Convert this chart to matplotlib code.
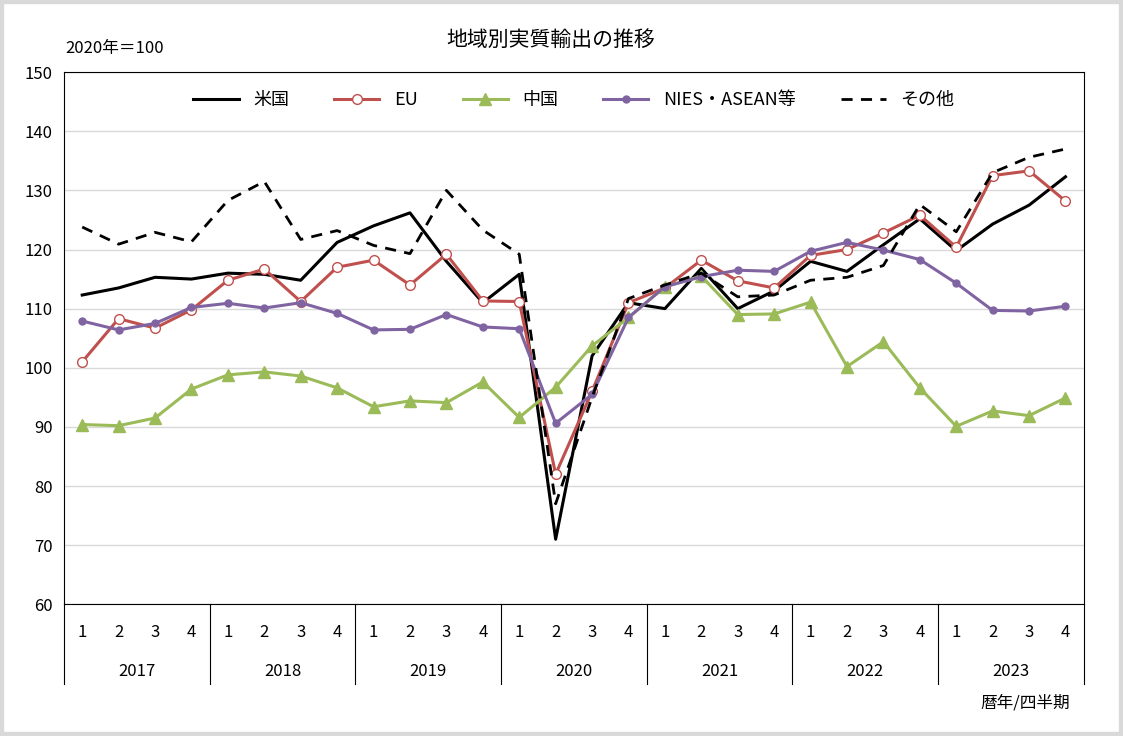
import matplotlib
matplotlib.use("Agg")
import matplotlib.pyplot as plt
from matplotlib.transforms import blended_transform_factory
from matplotlib.patches import Rectangle

plt.rcParams['font.family'] = ['Noto Sans CJK JP', 'DejaVu Sans']

years = ["2017", "2018", "2019", "2020", "2021", "2022", "2023"]
quarters = ["1", "2", "3", "4"]
us = [112.3, 113.5, 115.3, 115.0, 116.0, 115.8, 114.8, 121.2, 124.0, 126.2, 118.0, 111.0, 115.8, 71.0,
      102.0, 111.0, 110.0, 116.8, 110.0, 113.0, 118.0, 116.3, 120.8, 125.2, 119.8, 124.3, 127.5, 132.3]
eu = [101.0, 108.3, 106.7, 109.8, 114.8, 116.7, 111.2, 117.0, 118.2, 114.0, 119.2, 111.3, 111.2, 82.0,
      96.0, 111.0, 113.5, 118.2, 114.7, 113.5, 119.0, 120.0, 122.8, 125.8, 120.4, 132.5, 133.3, 128.2]
china = [90.4, 90.2, 91.5, 96.4, 98.8, 99.3, 98.6, 96.6, 93.4, 94.4, 94.1, 97.6, 91.6, 96.7,
         103.7, 108.5, 113.7, 115.5, 109.0, 109.1, 111.1, 100.2, 104.4, 96.6, 90.1, 92.7, 91.9, 94.9]
nies = [107.9, 106.4, 107.5, 110.2, 110.9, 110.1, 111.0, 109.2, 106.4, 106.5, 109.0, 106.9, 106.6, 90.6,
        95.5, 108.5, 113.7, 115.4, 116.5, 116.3, 119.7, 121.2, 119.9, 118.3, 114.3, 109.7, 109.6, 110.4]
other = [123.8, 120.9, 122.9, 121.3, 128.3, 131.5, 121.7, 123.2, 120.7, 119.3, 130.0, 123.3, 119.2, 77.0,
         95.0, 111.7, 114.0, 116.0, 112.0, 112.3, 114.8, 115.3, 117.3, 127.6, 123.0, 133.0, 135.6, 137.0]

fig = plt.figure(figsize=(11.23, 7.36), dpi=100)
fig.patches.append(Rectangle((0, 0), 1, 1, transform=fig.transFigure, fill=False,
                             edgecolor="#d9d9d9", linewidth=6))
ax = fig.add_axes([0.057, 0.179, 0.908, 0.723])
x = list(range(len(us)))
ax.plot(x, us, color="black", lw=2.2, label="米国")
ax.plot(x, eu, color="#c0504d", lw=2.2, marker="o", ms=7, mfc="white", mec="#c0504d", label="EU")
ax.plot(x, china, color="#9bbb59", lw=2.2, marker="^", ms=9, label="中国")
ax.plot(x, nies, color="#8064a2", lw=2.2, marker="o", ms=5, label="NIES・ASEAN等")
ax.plot(x, other, color="black", lw=2.0, ls=(0, (4, 3)), label="その他")
ax.set_xlim(-0.5, len(us) - 0.5)
ax.set_ylim(60, 150)
ax.set_yticks(range(60, 151, 10))
ax.tick_params(axis="y", length=0, labelsize=12, pad=8)
ax.set_xticks([])
ax.grid(axis="y", color="#d9d9d9", lw=1)
ax.set_axisbelow(True)
for s in ax.spines.values():
    s.set_color("black"); s.set_linewidth(0.8)
ax.legend(loc="upper center", ncol=5, frameon=False, fontsize=13, bbox_to_anchor=(0.5, 0.995),
          handlelength=2.5, columnspacing=2.5)

tr = blended_transform_factory(ax.transData, ax.transAxes)
for i in x:
    ax.text(i, -0.053, quarters[i % 4], transform=tr, ha="center", va="center", fontsize=12)
for k, y in enumerate(years):
    ax.text(4 * k + 1.5, -0.126, y, transform=tr, ha="center", va="center", fontsize=12)
for k in range(8):
    ax.plot([4 * k - 0.5] * 2, [0, -0.15], transform=tr, color="black", lw=0.8, clip_on=False)

fig.text(0.49, 0.946, "地域別実質輸出の推移", ha="center", va="center", fontsize=15)
fig.text(0.058, 0.934, "2020年＝100", ha="left", va="center", fontsize=12)
fig.text(0.953, 0.045, "暦年/四半期", ha="right", va="center", fontsize=12)
fig.savefig("out.png", dpi=100)
